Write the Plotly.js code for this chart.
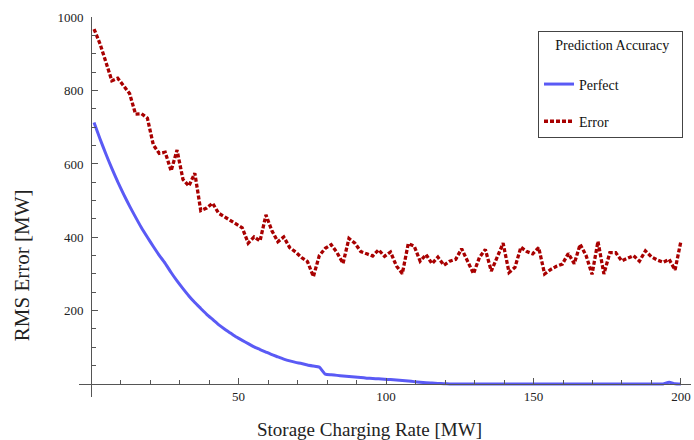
<!DOCTYPE html>
<html><head><meta charset="utf-8">
<script src="https://cdn.plot.ly/plotly-3.0.1.min.js"></script>
<style>html,body{margin:0;padding:0;background:#fff}#chart{width:694px;height:440px}</style>
</head><body><div id="chart"></div>
<script>
// Storage charging rate samples [MW]
const chargingRate = [1,3.01,5.02,7.03,9.04,11.05,13.06,15.07,17.08,19.09,21.1,23.11,25.12,27.13,29.14,31.15,33.16,35.17,37.18,39.19,41.2,43.21,45.22,47.23,49.24,51.25,53.26,55.27,57.28,59.29,61.3,63.31,65.32,67.33,69.34,71.35,73.36,75.37,77.38,79.39,81.4,83.41,85.42,87.43,89.44,91.45,93.46,95.47,97.48,99.49,101.51,103.52,105.53,107.54,109.55,111.56,113.57,115.58,117.59,119.6,121.61,123.62,125.63,127.64,129.65,131.66,133.67,135.68,137.69,139.7,141.71,143.72,145.73,147.74,149.75,151.76,153.77,155.78,157.79,159.8,161.81,163.82,165.83,167.84,169.85,171.86,173.87,175.88,177.89,179.9,181.91,183.92,185.93,187.94,189.95,191.96,193.97,195.98,197.99,200];
// RMS error with perfect prediction [MW]
const perfectRMS = [713,669,627,588,551,517,485,455,426,400,375,351,329,304,281,260,240,222,206,190,176,162,150,139,128,119,110,101,94,87,80,74,68,63,59,56,52,49,46,27,25,23.5,22,20.5,19,17.5,16,15,14,13,12,11,9.5,8,6.5,5,3.5,2.5,1.5,0.8,0.3,0,0,0,0,0,0,0,0,0,0,0,0,0,0,0,0,0,0,0,0,0,0,0,0,0,0,0,0,0,0,0,0,0,0,0,0,5,0.5,0];
// RMS error with prediction error [MW]
const errorRMS = [968,928,878,827,834,813,792,736,737,725,652,629,632,581,638,558,540,575,473,480,493,466,456,444,434,426,384,401,390,461,418,388,401,372,360,345,334,293,350,370,380,358,329,397,384,361,355,349,366,348,360,322,301,383,376,335,353,328,346,324,335,340,369,337,301,345,367,308,345,384,304,318,373,361,355,372,300,312,321,327,356,328,381,350,299,389,300,358,358,336,343,350,335,363,347,338,332,340,311,390];
const seriesNames = ['Perfect','Error'];
const legendTitle = 'Prediction Accuracy';
const xTickVals = [50,100,150,200];
const yTickVals = [200,400,600,800,1000];

const FONT = 'Liberation Serif, Times New Roman, serif';
const AX = '#555';
const NB = '\u00a0';

const traces = [
  {x: chargingRate, y: perfectRMS, name: seriesNames[0], type: 'scatter', mode: 'lines',
   legendgroup: 'a', line: {color: '#5a5af5', width: 3, shape: 'spline', smoothing: 0.5}},
  {x: chargingRate, y: errorRMS, name: seriesNames[1], type: 'scatter', mode: 'lines',
   legendgroup: 'b', line: {color: '#a80000', width: 3.3, dash: '4px,2px'}}
];

const layout = {
  width: 694, height: 440,
  margin: {l: 79, r: 3, t: 17, b: 43},
  paper_bgcolor: '#fff', plot_bgcolor: '#fff',
  font: {family: FONT, size: 13, color: '#222'},
  showlegend: true,
  xaxis: {
    range: [-4.1, 203.4], anchor: 'free', position: 0.0342,
    showgrid: false, zeroline: false, showline: true, linecolor: AX, linewidth: 1,
    ticks: 'inside', ticklen: 6, tickcolor: AX, tickwidth: 1,
    tickvals: xTickVals, ticktext: xTickVals.map(String),
    minor: {dtick: 10, tick0: 0, ticks: 'inside', ticklen: 4, tickcolor: AX, showgrid: false},
    tickfont: {size: 13, family: FONT, color: '#222'}
  },
  yaxis: {
    range: [-35.45, 1000.8], anchor: 'free', position: 0.01977,
    showgrid: false, zeroline: false, showline: true, linecolor: AX, linewidth: 1,
    ticks: 'inside', ticklen: 6, tickcolor: AX, tickwidth: 1,
    tickvals: yTickVals, ticktext: yTickVals.map(String),
    ticklabelstandoff: 5,
    minor: {dtick: 50, tick0: 0, ticks: 'inside', ticklen: 4, tickcolor: AX, showgrid: false},
    tickfont: {size: 13, family: FONT, color: '#222'}
  },
  legend: {
    x: 0.75, y: 0.963, xanchor: 'left', yanchor: 'top',
    bordercolor: '#444', borderwidth: 1, bgcolor: '#fff',
    font: {family: FONT, size: 14, color: '#111'},
    title: {text: NB.repeat(4) + legendTitle + NB.repeat(3) + '<br>' + NB, side: 'top center',
            font: {family: FONT, size: 14, color: '#111'}},
    tracegroupgap: 16, traceorder: 'grouped'
  },
  annotations: [
    {text: 'Storage Charging Rate [MW]', xref: 'paper', yref: 'paper', x: 0.4739, y: -0.0868,
     xanchor: 'center', yanchor: 'middle', showarrow: false, font: {family: FONT, size: 19, color: '#222'}},
    {text: 'RMS Error [MW]', xref: 'paper', yref: 'paper', x: -0.0931, y: 0.347, textangle: -90,
     xanchor: 'center', yanchor: 'middle', showarrow: false, font: {family: FONT, size: 21, color: '#222'}}
  ]
};

Plotly.newPlot('chart', traces, layout, {displayModeBar: false, staticPlot: true});
</script>
</body></html>
